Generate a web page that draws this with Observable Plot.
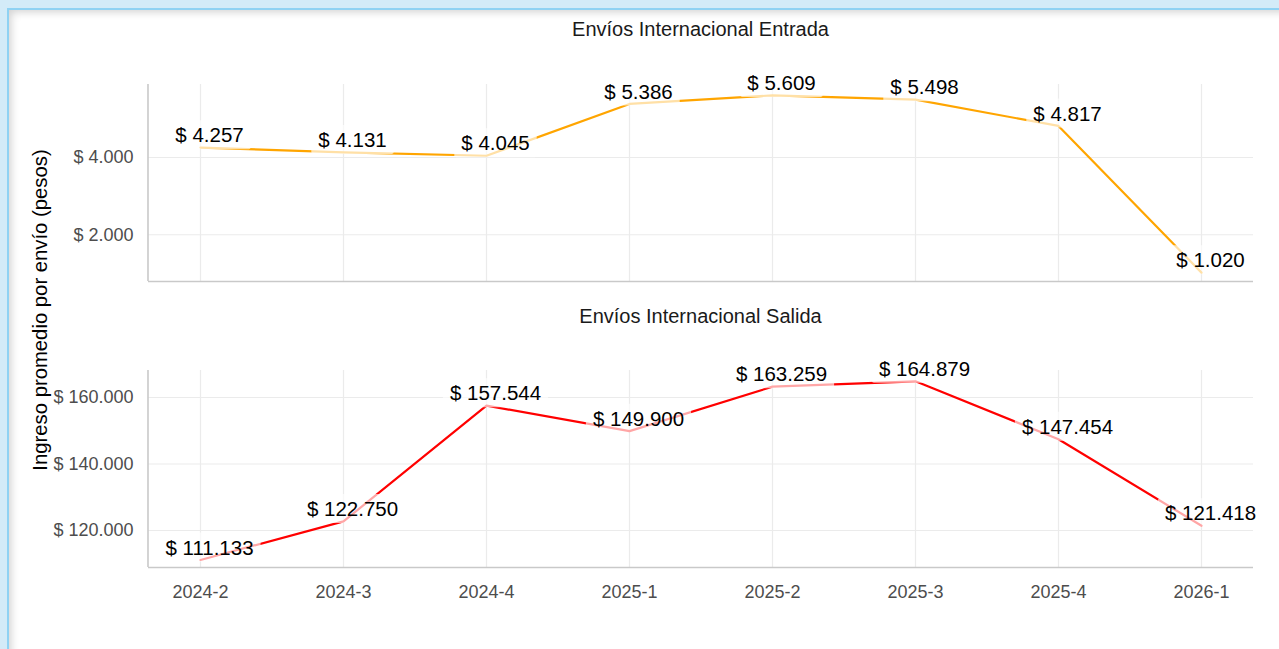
<!DOCTYPE html>
<html>
<head>
<meta charset="utf-8">
<script src="https://cdn.jsdelivr.net/npm/d3@7"></script>
<script src="https://cdn.jsdelivr.net/npm/@observablehq/plot@0.6"></script>
<style>
  html, body { margin: 0; padding: 0; }
  body { width: 1279px; height: 649px; overflow: hidden; position: relative; background: #d3ebf8; font-family: "Liberation Sans", Arial, sans-serif; }
  #card { position: absolute; left: 7px; top: 8px; right: -30px; bottom: -30px; background: #fff;
          border-left: 2px solid #8fd2f3; border-top: 2px solid #8fd2f3;
          box-shadow: inset 5px 5px 9px -3px rgba(0,0,0,0.18); }
  .panel { position: absolute; left: 0; }
  .ftitle { position: absolute; left: 148px; width: 1105px; text-align: center; font-size: 20px; color: #1a1a1a; line-height: 1; }
  #ytitle { position: absolute; left: 40px; top: 310px; transform: translate(-50%, -50%) rotate(-90deg); white-space: nowrap; font-size: 20.3px; color: #000; line-height: 1; }
</style>
</head>
<body>
<div id="card"></div>
<div id="root"></div>
<script>
const periods = ["2024-2", "2024-3", "2024-4", "2025-1", "2025-2", "2025-3", "2025-4", "2026-1"];
const entrada = [4257, 4131, 4045, 5386, 5609, 5498, 4817, 1020];
const salida = [111133, 122750, 157544, 149900, 163259, 164879, 147454, 121418];
const facetTitles = ["Envíos Internacional Entrada", "Envíos Internacional Salida"];
const yTitle = "Ingreso promedio por envío (pesos)";
const ticksEntrada = [2000, 4000];
const ticksSalida = [120000, 140000, 160000];

const loc = d3.formatLocale({decimal: ",", thousands: ".", grouping: [3], currency: ["$ ", ""]});
const fmt = loc.format("$,.0f");

const root = document.getElementById("root");

function leftLine() {
  return (index, scales, values, dims) => {
    const line = document.createElementNS("http://www.w3.org/2000/svg", "line");
    line.setAttribute("x1", dims.marginLeft);
    line.setAttribute("x2", dims.marginLeft);
    line.setAttribute("y1", dims.marginTop);
    line.setAttribute("y2", dims.height - dims.marginBottom);
    line.setAttribute("stroke", "#c9c9c9");
    line.setAttribute("stroke-width", 1.6);
    return line;
  };
}

function panel(values, color, domain, ticks, top, height, mTop, mBottom, showX) {
  const data = periods.map((p, i) => ({period: p, value: values[i]}));
  const plot = Plot.plot({
    width: 1279, height,
    marginLeft: 148, marginRight: 26, marginTop: mTop, marginBottom: mBottom,
    style: {fontFamily: "'Liberation Sans', Arial, sans-serif", fontSize: "18px", color: "#4d4d4d", background: "transparent", overflow: "visible"},
    x: {type: "point", domain: periods, padding: 0.35, label: null, axis: showX ? "bottom" : null, tickSize: 0, tickPadding: 18},
    y: {domain, ticks, tickFormat: fmt, tickSize: 0, tickPadding: 15, label: null},
    marks: [
      Plot.gridX(periods, {stroke: "#ebebeb", strokeOpacity: 1, strokeWidth: 1.2}),
      Plot.gridY(ticks, {stroke: "#ebebeb", strokeOpacity: 1, strokeWidth: 1.2}),
      Plot.ruleY([domain[0]], {stroke: "#c9c9c9", strokeWidth: 1.6}),
      leftLine(),
      Plot.line(data, {x: "period", y: "value", stroke: color, strokeWidth: 2.2}),
      Plot.text(data, {x: "period", y: "value", text: d => fmt(d.value), dx: 9, dy: -12, fill: "#000", fontSize: 20.5})
    ]
  });
  const wrap = document.createElement("div");
  wrap.className = "panel";
  wrap.style.top = top + "px";
  wrap.appendChild(plot);
  root.appendChild(wrap);
  // label boxes (semi-transparent white, like geom_label)
  plot.querySelectorAll('g[aria-label="text"] text').forEach(t => {
    const bb = t.getBBox();
    const r = document.createElementNS("http://www.w3.org/2000/svg", "rect");
    const padX = 7, padY = 3;
    r.setAttribute("x", bb.x - padX);
    r.setAttribute("y", bb.y - padY);
    r.setAttribute("width", bb.width + 2 * padX);
    r.setAttribute("height", bb.height + 2 * padY);
    r.setAttribute("rx", 2);
    r.setAttribute("fill", "#fff");
    r.setAttribute("fill-opacity", 0.65);
    if (t.getAttribute("transform")) r.setAttribute("transform", t.getAttribute("transform"));
    t.parentNode.insertBefore(r, t);
  });
}

panel(entrada, "#FFA500", [790, 5890], ticksEntrada, 0, 300, 84, 19, false);
panel(salida, "#FF0000", [108870, 168120], ticksSalida, 300, 349, 70, 82, true);

facetTitles.forEach((t, i) => {
  const d = document.createElement("div");
  d.className = "ftitle";
  d.textContent = t;
  d.style.top = (i === 0 ? 19 : 306) + "px";
  root.appendChild(d);
});
const yt = document.createElement("div");
yt.id = "ytitle";
yt.textContent = yTitle;
root.appendChild(yt);
</script>
</body>
</html>
